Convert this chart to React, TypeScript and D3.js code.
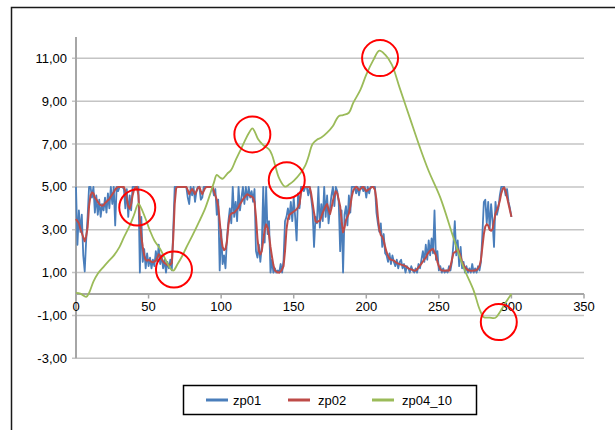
import React from 'react';
import * as d3 from 'd3';

// zp01 values at x = 0..300
const zp01 = [
  5.0, 2.3, 3.9, 2.9, 3.7, 1.8, 1.05, 2.5, 3.6, 5.0,
  5.0, 4.5, 5.0, 3.8, 4.6, 3.7, 4.4, 3.6, 4.2, 3.9,
  4.5, 3.8, 4.7, 4.0, 5.0, 4.2, 5.0, 3.2, 5.0, 4.8,
  5.0, 5.0, 5.0, 4.9, 4.0, 4.9, 3.6, 4.6, 3.9, 5.0,
  5.0, 5.0, 4.9, 5.0, 1.0, 3.6, 1.5, 2.1, 1.2, 1.9,
  1.3, 1.7, 1.2, 1.6, 1.3, 2.0, 1.5, 2.3, 1.4, 1.8,
  1.2, 1.6, 1.0, 1.5, 1.2, 1.6, 1.1, 3.0, 5.0, 5.0,
  5.0, 5.0, 5.0, 5.0, 5.0, 5.0, 5.0, 4.5, 4.2, 5.0,
  4.6, 5.0, 4.3, 4.8, 5.0, 5.0, 4.4, 4.5, 5.0, 5.0,
  5.0, 5.0, 5.0, 5.0, 5.0, 4.6, 4.9, 3.7, 4.4, 1.1,
  3.0, 1.4, 1.8, 1.2, 2.6, 3.4, 4.0, 3.3, 5.0, 3.6,
  4.3, 3.4, 5.0, 3.9, 4.5, 5.0, 4.2, 5.0, 4.4, 5.0,
  4.5, 4.8, 4.3, 4.9, 2.0, 1.7, 2.3, 1.5, 2.2, 5.0,
  2.4, 5.0, 2.8, 3.4, 1.0, 1.6, 1.0, 1.2, 1.0, 1.1,
  1.0, 1.4, 1.0, 1.6, 3.4, 3.6, 4.0, 3.5, 4.3, 3.4,
  4.5, 3.6, 2.5, 4.7, 4.0, 5.0, 5.0, 4.8, 5.0, 5.0,
  4.6, 5.0, 4.5, 3.9, 2.2, 3.6, 3.3, 5.0, 3.1, 4.2,
  3.4, 5.0, 3.6, 4.6, 3.3, 4.0, 4.6, 5.0, 4.1, 5.0,
  4.8, 4.3, 2.0, 3.9, 1.0, 3.7, 4.1, 3.2, 4.6, 3.8,
  5.0, 5.0, 5.0, 4.7, 5.0, 4.6, 5.0, 5.0, 4.8, 5.0,
  4.5, 5.0, 4.7, 5.0, 5.0, 5.0, 5.0, 3.8, 3.3, 2.9,
  3.3, 2.2, 2.8, 1.9, 1.8, 1.5, 1.9, 1.4, 1.8, 1.5,
  1.3, 1.6, 1.2, 1.5, 1.6, 1.2, 1.4, 1.0, 1.3, 1.2,
  1.0, 1.3, 1.1, 1.0, 1.2, 1.0, 1.4, 1.2, 1.6, 2.0,
  1.5, 2.3, 1.6, 2.5, 1.8, 2.6, 1.9, 3.9, 1.6, 2.0,
  1.1, 1.3, 1.0, 1.2, 1.0, 1.1, 1.0, 1.3, 1.1, 1.5,
  2.3, 3.4, 1.8, 2.5, 1.3, 2.2, 1.2, 1.5, 1.0, 1.3,
  1.0, 1.2, 1.0, 1.4, 1.0, 1.2, 1.0, 1.3, 1.1, 1.5,
  2.8, 4.3, 4.4, 3.3, 4.3, 3.0, 4.2, 3.4, 2.2, 4.3,
  3.7, 4.0, 4.6, 5.0, 5.0, 5.0, 4.6, 4.9, 4.3, 4.0,
  3.6,
];

// zp02 values at x = 0..300
const zp02 = [
  3.5, 3.4, 3.3, 3.05, 2.85, 2.65, 2.46, 2.7, 3.1, 4.1,
  4.6, 4.74, 4.7, 4.5, 4.42, 4.3, 4.2, 4.15, 4.12, 4.15,
  4.25, 4.3, 4.38, 4.43, 4.55, 4.65, 4.75, 4.88, 4.95, 5.0,
  5.0, 5.0, 5.0, 5.0, 4.8, 4.45, 4.1, 3.98, 4.2, 4.6,
  4.88, 4.98, 5.0, 4.6, 3.5, 2.7, 2.2, 1.8, 1.6, 1.55,
  1.6, 1.55, 1.5, 1.48, 1.52, 1.56, 1.7, 1.85, 1.8, 1.62,
  1.52, 1.45, 1.4, 1.35, 1.33, 1.38, 1.45, 2.6, 4.2, 4.95,
  5.0, 5.0, 5.0, 5.0, 5.0, 5.0, 5.0, 4.85, 4.66, 4.8,
  4.9, 4.8, 4.66, 4.8, 4.95, 5.0, 4.8, 4.66, 4.8, 4.95,
  5.0, 5.0, 5.0, 5.0, 5.0, 4.8, 4.6, 4.4, 4.1, 3.4,
  2.64, 2.2, 2.05, 2.1, 2.45, 3.2, 3.65, 3.75, 3.78, 3.8,
  3.88, 3.95, 4.05, 4.2, 4.3, 4.42, 4.5, 4.6, 4.66, 4.62,
  4.58, 4.55, 4.5, 4.3, 3.6, 2.6, 2.0, 1.85, 2.0, 2.5,
  3.0, 3.25, 3.1, 2.75, 2.2, 1.75, 1.35, 1.1, 1.05, 1.0,
  1.0, 1.05, 1.15, 1.3, 2.0, 3.0, 3.5, 3.7, 3.75, 3.8,
  3.85, 3.9, 3.96, 4.05, 4.2, 4.7, 5.0, 5.0, 5.0, 5.0,
  5.0, 5.0, 4.7, 4.25, 3.8, 3.4, 3.35, 3.4, 3.42, 3.6,
  3.8, 3.95, 4.1, 4.2, 3.95, 3.73, 4.0, 4.35, 4.6, 4.8,
  4.7, 4.4, 4.1, 3.4, 2.88, 3.1, 3.45, 3.6, 3.75, 4.1,
  4.55, 4.82, 4.95, 5.0, 4.95, 4.85, 4.9, 4.98, 5.0, 4.9,
  4.8, 4.85, 4.9, 4.95, 5.0, 4.98, 4.85, 4.4, 3.6, 3.0,
  2.75, 2.68, 2.5, 2.2, 1.95, 1.78, 1.65, 1.6, 1.58, 1.56,
  1.5, 1.45, 1.42, 1.4, 1.37, 1.35, 1.33, 1.3, 1.25, 1.2,
  1.17, 1.15, 1.12, 1.09, 1.1, 1.15, 1.25, 1.33, 1.42, 1.52,
  1.62, 1.7, 1.85, 1.95, 2.02, 2.08, 2.1, 1.95, 1.8, 1.5,
  1.3, 1.15, 1.1, 1.1, 1.09, 1.1, 1.1, 1.09, 1.3, 1.6,
  1.9, 1.95, 2.0, 2.1, 1.95, 1.75, 1.5, 1.35, 1.25, 1.18,
  1.12, 1.1, 1.09, 1.09, 1.1, 1.1, 1.12, 1.2, 1.3, 1.6,
  2.2, 2.8, 3.15, 3.26, 3.2, 3.0, 2.95, 3.03, 3.4, 3.75,
  3.9, 4.1, 4.35, 4.7, 4.9, 4.97, 4.8, 4.5, 4.2, 3.9,
  3.6,
];

// zp04_10 sampled points (x, value)
const zp04X = [
  0, 3, 7, 9, 12, 15, 19, 22, 26, 30, 33, 37, 40, 43, 45, 48, 51, 54, 58, 61,
  65, 67, 70, 73, 76, 80, 85, 89, 92, 95, 97, 99, 101, 104, 107, 110, 113, 116, 119, 121.5,
  123, 125.5, 129, 133, 135, 137, 140, 144, 147, 150, 155, 158, 160, 163, 166, 169, 173, 177, 179, 181,
  184, 188, 191, 196, 200, 205, 209, 213, 217.6, 223, 230, 237, 243, 251, 260, 267, 274, 278, 281, 285,
  289, 292, 296, 300,
];
const zp04Y = [
  0.05, 0.02, -0.13, 0.05, 0.58, 0.95, 1.27, 1.5, 1.79, 2.2, 2.64, 3.19, 3.7, 4.22, 4.0, 3.5, 2.95, 2.5, 2.1, 1.7,
  1.2, 1.09, 1.4, 1.75, 2.17, 2.7, 3.4, 4.0, 4.58, 5.2, 5.56, 5.45, 5.38, 5.6, 5.8, 6.25, 6.67, 7.1, 7.5, 7.73,
  7.6, 7.22, 6.95, 6.75, 6.5, 6.06, 5.4, 5.01, 5.12, 5.28, 5.67, 6.0, 6.37, 7.0, 7.2, 7.3, 7.53, 7.84, 8.1, 8.3,
  8.35, 8.46, 8.92, 9.54, 10.24, 10.94, 11.36, 11.17, 10.71, 9.62, 8.22, 6.83, 5.74, 4.5, 2.64, 1.25, 0.16, -0.7, -1.08, -1.1,
  -1.11, -0.85, -0.4, 0.0,
];

const xTicks = [0, 50, 100, 150, 200, 250, 300, 350];
const yTicks = [-3, -1, 1, 3, 5, 7, 9, 11];
const seriesNames = ['zp01', 'zp02', 'zp04_10'];
const seriesColors = ['#4A7EBB', '#BE4B48', '#9BBB59'];

// annotation circles (data coords)
const circleX = [42.2, 67.5, 121.5, 145.2, 209.5, 291.3];
const circleY = [4.04, 1.14, 7.45, 5.31, 11.01, -1.31];

const FONT = '"Liberation Sans", Arial, sans-serif';

export default function App() {
  const x = d3.scaleLinear().domain([0, 350]).range([76, 584]);
  const y = d3.scaleLinear().domain([-3, 12]).range([358.3, 36.9]);
  const fmt = (v: number) => v.toFixed(2).replace('.', ',');

  const lin = d3
    .line<[number, number]>()
    .x((d) => x(d[0]))
    .y((d) => y(d[1]));
  const smooth = d3
    .line<[number, number]>()
    .x((d) => x(d[0]))
    .y((d) => y(d[1]))
    .curve(d3.curveCatmullRom.alpha(0.5));

  const p01 = lin(zp01.map((v, i) => [i, v] as [number, number])) || '';
  const p02 = lin(zp02.map((v, i) => [i, v] as [number, number])) || '';
  const p04 = smooth(zp04X.map((v, i) => [v, zp04Y[i]] as [number, number])) || '';

  const x0 = x(0);
  const x1 = x(350);
  const yZero = y(0);

  const legendItems = [
    { lx: 206, tx: 233 },
    { lx: 288, tx: 318 },
    { lx: 372, tx: 402 },
  ];

  return (
    <svg
      width={615}
      height={430}
      style={{ position: 'absolute', left: 0, top: 0, background: '#fff' }}
      fontFamily={FONT}
    >
      <rect x={0} y={0} width={615} height={430} fill="#fff" />
      {/* outer chart frame */}
      <rect x={11.5} y={7.5} width={800} height={600} fill="none" stroke="#1a1a1a" strokeWidth={1.5} />

      {/* gridlines */}
      {yTicks.map((t) => (
        <line key={'g' + t} x1={x0 - 4} x2={x1} y1={y(t)} y2={y(t)} stroke="#C4C4C4" strokeWidth={1.5} />
      ))}

      {/* y axis */}
      <line x1={x0} x2={x0} y1={y(12)} y2={y(-3)} stroke="#A6A6A6" strokeWidth={2} />
      {yTicks.map((t) => (
        <text key={'yl' + t} x={67} y={y(t) + 4.5} fontSize={13} textAnchor="end" fill="#000">
          {fmt(t)}
        </text>
      ))}

      {/* x axis at zero */}
      <line x1={x0} x2={x1} y1={yZero} y2={yZero} stroke="#A6A6A6" strokeWidth={2} />
      {xTicks.map((t) => (
        <g key={'xt' + t}>
          <line x1={x(t)} x2={x(t)} y1={yZero} y2={yZero + 4.5} stroke="#A6A6A6" strokeWidth={1.5} />
          <text x={x(t)} y={yZero + 16.5} fontSize={13} textAnchor="middle" fill="#000">
            {t}
          </text>
        </g>
      ))}

      {/* series */}
      <path d={p01} fill="none" stroke={seriesColors[0]} strokeWidth={1.8} strokeLinejoin="round" />
      <path d={p02} fill="none" stroke={seriesColors[1]} strokeWidth={2} strokeLinejoin="round" />
      <path d={p04} fill="none" stroke={seriesColors[2]} strokeWidth={1.8} strokeLinejoin="round" />

      {/* annotation circles */}
      {circleX.map((cx, i) => (
        <circle key={'c' + i} cx={x(cx)} cy={y(circleY[i])} r={18} fill="none" stroke="#FF0000" strokeWidth={2} />
      ))}

      {/* legend */}
      <rect x={183.5} y={385.5} width={293} height={29} fill="#fff" stroke="#000" strokeWidth={1.5} />
      {seriesNames.map((n, i) => (
        <g key={n}>
          <line
            x1={legendItems[i].lx}
            x2={legendItems[i].lx + 22}
            y1={400}
            y2={400}
            stroke={seriesColors[i]}
            strokeWidth={3}
          />
          <text x={legendItems[i].tx} y={404.5} fontSize={13} fill="#000">
            {n}
          </text>
        </g>
      ))}
    </svg>
  );
}
